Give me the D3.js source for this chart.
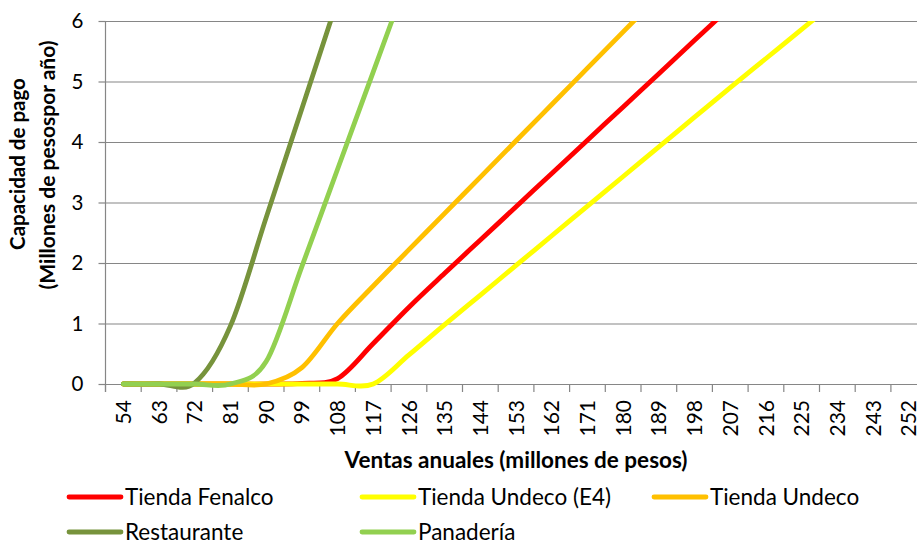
<!DOCTYPE html>
<html>
<head>
<meta charset="utf-8">
<script src="https://cdn.jsdelivr.net/npm/d3@7"></script>
<style>
  html, body { margin: 0; padding: 0; background: #fff; overflow: hidden; }
  svg { display: block; font-family: Lato, "Open Sans", sans-serif; }
</style>
</head>
<body>
<svg id="chart" width="917" height="543"></svg>
<script>
// ---- data ----
const categories = [54, 63, 72, 81, 90, 99, 108, 117, 126, 135, 144, 153, 162, 171, 180, 189, 198, 207, 216, 225, 234, 243, 252];
const yTicks = [0, 1, 2, 3, 4, 5, 6];
const seriesNames = ["Tienda Fenalco", "Tienda Undeco (E4)", "Tienda Undeco", "Restaurante", "Panadería"];
const seriesColors = ["#FF0000", "#FFFF00", "#FFC000", "#77933C", "#92D050"];
const tiendaFenalco = [0, 0, 0, 0, 0, 0.01, 0.09, 0.67, 1.27, 1.83, 2.38, 2.93, 3.48, 4.03, 4.58, 5.13, 5.68, 6.23, 6.78, null, null, null, null];
const tiendaUndecoE4 = [0, 0, 0, 0, 0, 0, 0, 0, 0.48, 0.98, 1.47, 1.96, 2.45, 2.94, 3.43, 3.92, 4.41, 4.90, 5.38, 5.86, 6.35, 6.84, null];
const tiendaUndeco = [0, 0, 0, 0, 0, 0.27, 1.0, 1.62, 2.22, 2.82, 3.42, 4.02, 4.62, 5.22, 5.82, 6.42, 7.02, null, null, null, null, null, null];
const restaurante = [0, 0, 0.02, 0.96, 2.75, 4.55, 6.35, 8.15, null, null, null, null, null, null, null, null, null, null, null, null, null, null, null];
const panaderia = [0, 0, 0, 0, 0.37, 1.94, 3.55, 5.16, 6.77, 8.38, null, null, null, null, null, null, null, null, null, null, null, null, null];
const seriesValues = [tiendaFenalco, tiendaUndecoE4, tiendaUndeco, restaurante, panaderia];
const xTitle = "Ventas anuales (millones de pesos)";
const yTitle1 = "Capacidad de pago";
const yTitle2 = "(Millones de pesospor año)";

// ---- layout ----
const svg = d3.select("#chart");
const W = 917, H = 543;
const plotLeft = 105.5, step = 35.7, plotTop = 21, plotBottom = 384;
const plotRight = plotLeft + step * categories.length;
const grid = "#868686";

const x = d3.scaleBand().domain(categories).range([plotLeft, plotRight]).padding(0);
const y = d3.scaleLinear().domain([0, 6]).range([plotBottom, plotTop]);

// gridlines
const gridG = svg.append("g").attr("transform", `translate(${plotLeft},0)`)
  .call(d3.axisLeft(y).tickValues(yTicks).tickSize(-(plotRight - plotLeft)).tickFormat(""));
gridG.select(".domain").remove();
gridG.selectAll(".tick line").attr("stroke", grid).attr("stroke-width", 1.2);

// y axis ticks + labels
const yAx = svg.append("g").attr("transform", `translate(${plotLeft},0)`)
  .call(d3.axisLeft(y).tickValues(yTicks).tickSize(7).tickPadding(15).tickFormat(d3.format("d")));
yAx.select(".domain").remove();
yAx.selectAll(".tick line").attr("stroke", grid).attr("stroke-width", 1.2);
yAx.selectAll(".tick text").attr("font-size", 20.5).attr("fill", "#000")
  .attr("font-family", "Lato, 'Open Sans', sans-serif");

// y axis vertical line
svg.append("line").attr("x1", plotLeft).attr("x2", plotLeft).attr("y1", plotTop).attr("y2", plotBottom + 8)
  .attr("stroke", grid).attr("stroke-width", 1.2);

// x axis tick marks at category boundaries
const bounds = categories.map(c => x(c)).concat([x.range()[1]]);
svg.append("g").selectAll("line").data(bounds).join("line")
  .attr("x1", d => d).attr("x2", d => d).attr("y1", plotBottom).attr("y2", plotBottom + 8)
  .attr("stroke", grid).attr("stroke-width", 1.2);

// x axis labels
const xAx = svg.append("g").attr("transform", `translate(0,${plotBottom})`)
  .call(d3.axisBottom(x).tickSize(0).tickPadding(0));
xAx.select(".domain").remove();
xAx.selectAll(".tick text")
  .attr("font-size", 21).attr("fill", "#000")
  .attr("font-family", "Lato, 'Open Sans', sans-serif")
  .attr("text-anchor", "end")
  .attr("x", 0).attr("y", 0).attr("dy", "0.36em")
  .attr("transform", "translate(0,16) rotate(-90)");

// clip for plot
svg.append("clipPath").attr("id", "plotclip").append("rect")
  .attr("x", plotLeft).attr("y", plotTop).attr("width", plotRight - plotLeft).attr("height", plotBottom - plotTop + 20);

const line = d3.line()
  .defined(d => d.v !== null)
  .x(d => x(d.c) + x.bandwidth() / 2)
  .y(d => y(d.v))
  .curve(d3.curveCardinal.tension(0));

const linesG = svg.append("g").attr("clip-path", "url(#plotclip)");
seriesValues.forEach((vals, i) => {
  const pts = categories.map((c, j) => ({ c: c, v: vals[j] }));
  linesG.append("path").datum(pts)
    .attr("d", line)
    .attr("fill", "none")
    .attr("stroke", seriesColors[i])
    .attr("stroke-width", 4.8)
    .attr("stroke-linecap", "round")
    .attr("stroke-linejoin", "round");
});

// axis titles
svg.append("text").attr("x", (plotLeft + plotRight) / 2).attr("y", 468)
  .attr("text-anchor", "middle").attr("font-weight", "bold").attr("font-size", 22.5)
  .text(xTitle);
svg.append("text").attr("transform", "rotate(-90)").attr("x", -164).attr("y", 25)
  .attr("text-anchor", "middle").attr("font-weight", "bold").attr("font-size", 20.5)
  .text(yTitle1);
svg.append("text").attr("transform", "rotate(-90)").attr("x", -165).attr("y", 55)
  .attr("text-anchor", "middle").attr("font-weight", "bold").attr("font-size", 21)
  .text(yTitle2);

// legend
const legendPos = [[67, 497], [360, 497], [652, 497], [67, 532], [360, 532]];
const lg = svg.append("g");
seriesNames.forEach((name, i) => {
  const [lx, ly] = legendPos[i];
  lg.append("line").attr("x1", lx + 2).attr("x2", lx + 54).attr("y1", ly).attr("y2", ly)
    .attr("stroke", seriesColors[i]).attr("stroke-width", 4.8).attr("stroke-linecap", "round");
  lg.append("text").attr("x", lx + 58).attr("y", ly).attr("dy", "0.36em")
    .attr("font-size", 22.5).attr("fill", "#000").text(name);
});
</script>
</body>
</html>
